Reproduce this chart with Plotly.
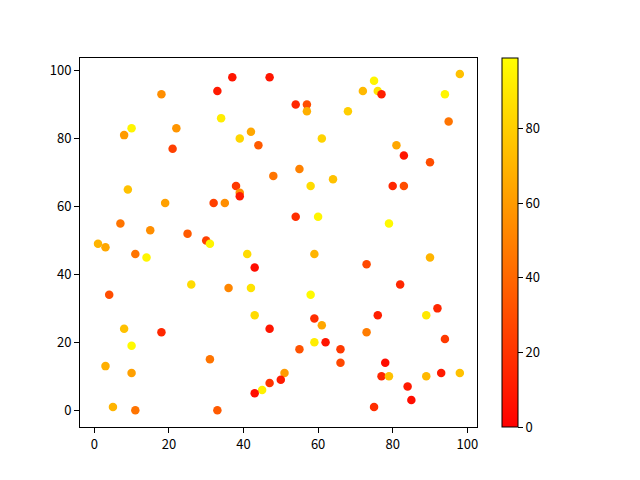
import plotly.graph_objects as go

x_vals = [18, 10, 8, 22, 21, 33, 37, 47, 54, 57, 57, 68, 34, 42, 39, 44, 61, 48, 55, 38,
          39, 39, 58, 64, 75, 72, 76, 77, 98, 94, 95, 81, 83, 90, 80, 83, 79, 90, 73, 82,
          92, 9, 19, 32, 35, 7, 15, 1, 3, 25, 30, 31, 11, 14, 26, 4, 54, 60, 41, 59,
          43, 36, 42, 58, 8, 18, 10, 3, 10, 31, 5, 11, 33, 43, 47, 59, 61, 59, 62, 55,
          66, 66, 51, 50, 47, 45, 43, 76, 89, 73, 94, 78, 77, 79, 89, 93, 98, 84, 85, 75]
y_vals = [93, 83, 81, 83, 77, 94, 98, 98, 90, 90, 88, 88, 86, 82, 80, 78, 80, 69, 71, 66,
          64, 63, 66, 68, 97, 94, 94, 93, 99, 93, 85, 78, 75, 73, 66, 66, 55, 45, 43, 37,
          30, 65, 61, 61, 61, 55, 53, 49, 48, 52, 50, 49, 46, 45, 37, 34, 57, 57, 46, 46,
          42, 36, 36, 34, 24, 23, 19, 13, 11, 15, 1, 0, 0, 28, 24, 27, 25, 20, 20, 18,
          18, 14, 11, 9, 8, 6, 5, 28, 28, 23, 21, 14, 10, 10, 10, 11, 11, 7, 3, 1]
c_vals = [55, 95, 60, 58, 25, 10, 8, 8, 15, 30, 68, 80, 92, 65, 83, 35, 82, 45, 50, 22,
          55, 10, 85, 75, 95, 72, 88, 12, 75, 95, 45, 65, 8, 30, 15, 30, 97, 70, 28, 15,
          15, 75, 62, 25, 55, 45, 55, 70, 65, 35, 25, 95, 45, 95, 85, 30, 18, 95, 85, 70,
          5, 52, 88, 97, 75, 15, 97, 68, 62, 45, 70, 45, 35, 85, 8, 18, 65, 92, 8, 32,
          22, 28, 60, 10, 20, 93, 5, 12, 90, 48, 22, 5, 15, 75, 72, 10, 75, 10, 5, 18]
cbar_ticks = [0, 20, 40, 60, 80]
x_ticks = [0, 20, 40, 60, 80, 100]
y_ticks = [0, 20, 40, 60, 80, 100]

font = dict(family="Noto Sans CJK SC, DejaVu Sans, sans-serif", size=13, color="black")

fig = go.Figure(go.Scatter(
    x=x_vals, y=y_vals, mode="markers",
    marker=dict(
        size=8.5, color=c_vals, cmin=0, cmax=99,
        colorscale=[[0, "rgb(255,0,0)"], [1, "rgb(255,255,0)"]],
        line=dict(width=0),
        colorbar=dict(
            x=1.063, xanchor="left", xref="paper", y=0.5, yanchor="middle",
            len=1, lenmode="fraction", thickness=16, xpad=0, ypad=0,
            outlinewidth=1, outlinecolor="black",
            tickvals=cbar_ticks, ticks="outside", ticklen=5, tickwidth=1,
            tickcolor="black", tickfont=font,
        ),
    ),
    showlegend=False,
))

axis_common = dict(
    showgrid=False, zeroline=False, showline=True, linecolor="black", linewidth=1,
    mirror=True, ticks="outside", ticklen=5, tickwidth=1, tickcolor="black",
    tickfont=font,
)
fig.update_xaxes(range=[-3.83, 102.6], tickvals=x_ticks, **axis_common)
fig.update_yaxes(range=[-4.92, 103.7], tickvals=y_ticks, **axis_common)

fig.update_layout(
    width=640, height=480,
    margin=dict(l=72, r=171, t=50, b=61),
    plot_bgcolor="white", paper_bgcolor="white",
    font=font,
)

fig.write_html("out.html")
